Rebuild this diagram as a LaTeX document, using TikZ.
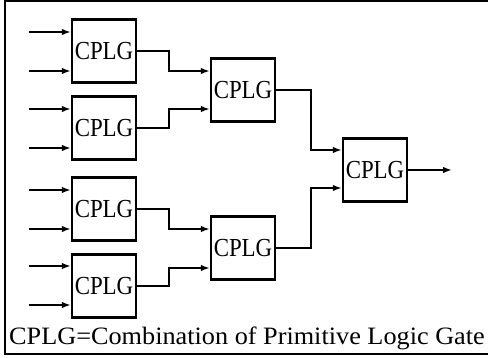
\documentclass[tikz,border=0pt]{standalone}
\usepackage{fontspec}
\setmainfont{Liberation Serif}
\usetikzlibrary{arrows.meta,calc}
\newcommand{\boxtext}[1]{\scalebox{0.88}[1]{#1}}
\begin{document}
\begin{tikzpicture}[x=1pt,y=-1pt,
 box/.style={draw,line width=2.2pt,minimum width=64pt,minimum height=63pt,inner sep=0pt,font=\fontsize{26}{26}\selectfont},
 wire/.style={line width=2.2pt},
 arr/.style={wire,-{Latex[length=9pt,width=6.5pt]}}]
\useasboundingbox (0,0) rectangle (488,358);
\draw[line width=2.4pt] (495,1) -- (5,1) -- (5,354) -- (495,354);
% first column
\node[box] (b1) at (104,51) {\boxtext{CPLG}};
\node[box] (b2) at (104,128) {\boxtext{CPLG}};
\node[box] (b3) at (104,209) {\boxtext{CPLG}};
\node[box] (b4) at (104,286) {\boxtext{CPLG}};
% second column
\node[box] (m1) at (243,90) {\boxtext{CPLG}};
\node[box] (m2) at (243,248) {\boxtext{CPLG}};
% final
\node[box] (f) at (375,170) {\boxtext{CPLG}};
% inputs
\foreach \n/\ya/\yb in {b1/32/71, b2/109/148, b3/190/229, b4/266/305}{
  \coordinate (\n-ia) at (29,\ya);
  \coordinate (\n-ib) at (29,\yb);
  \draw[arr] (\n-ia) -- (\n-ia -| \n.west);
  \draw[arr] (\n-ib) -- (\n-ib -| \n.west);
}
% first to second column
\draw[arr] (b1.east) -- ++(32,0) |- (m1.west |- 0,71);
\draw[arr] (b2.east) -- ++(32,0) |- (m1.west |- 0,109);
\draw[arr] (b3.east) -- ++(32,0) |- (m2.west |- 0,229);
\draw[arr] (b4.east) -- ++(32,0) |- (m2.west |- 0,268);
% second to final
\draw[arr] (m1.east) -- ++(35,0) |- (f.west |- 0,150);
\draw[arr] (m2.east) -- ++(35,0) |- (f.west |- 0,188);
% output
\coordinate (out) at (452,170);
\draw[arr] (f.east) -- (out);
% caption
\node[anchor=base west,inner sep=0pt,font=\fontsize{25}{25}\selectfont] (cap) at (9,345) {\scalebox{1.05}[1]{CPLG=Combination of Primitive Logic Gate}};
\end{tikzpicture}
\end{document}
